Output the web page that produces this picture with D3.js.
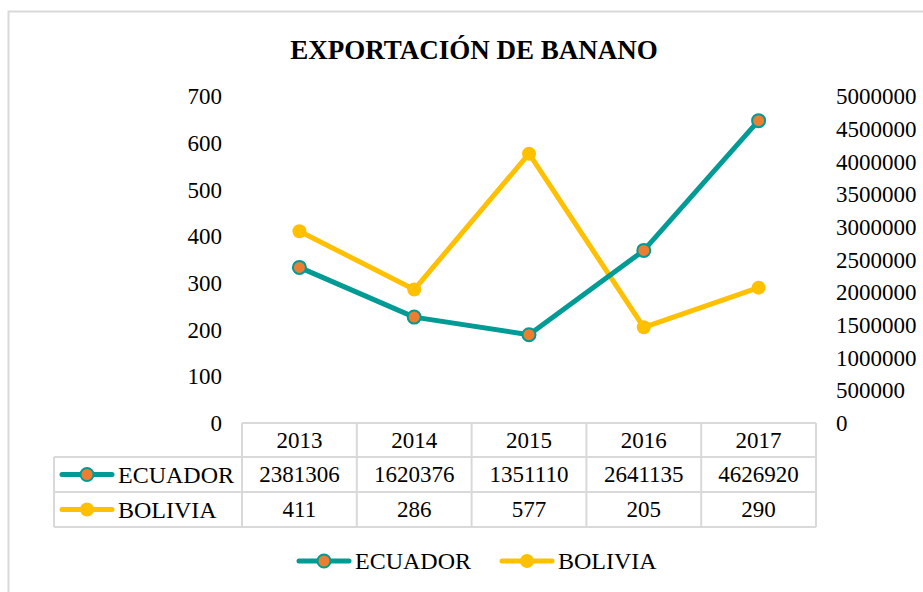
<!DOCTYPE html>
<html>
<head>
<meta charset="utf-8">
<script src="https://cdn.jsdelivr.net/npm/d3@7"></script>
<style>
  html, body { margin: 0; padding: 0; background: #fff; }
  svg text { font-family: "Liberation Serif", "Times New Roman", serif; fill: #000; }
</style>
</head>
<body>
<svg id="chart" width="923" height="592"></svg>
<script>
const title = "EXPORTACIÓN DE BANANO";
const years = ["2013", "2014", "2015", "2016", "2017"];
const seriesNames = ["ECUADOR", "BOLIVIA"];
const ecuador = [2381306, 1620376, 1351110, 2641135, 4626920];
const bolivia = [411, 286, 577, 205, 290];
const leftTicks = [0, 100, 200, 300, 400, 500, 600, 700];
const rightTicks = [0, 500000, 1000000, 1500000, 2000000, 2500000, 3000000, 3500000, 4000000, 4500000, 5000000];

const colors = { teal: "#009B95", orange: "#ED7D31", yellow: "#FFC000", grid: "#d9d9d9" };
const svg = d3.select("#chart");
const fs = 23;
const fsLegend = 24;

// outer chart border (top & left visible)
svg.append("path").attr("d", "M8.5,592 L8.5,11.5 L923,11.5")
  .attr("fill", "none").attr("stroke", colors.grid).attr("stroke-width", 2);

// title
svg.append("text").attr("x", 474).attr("y", 59).attr("text-anchor", "middle")
  .attr("font-size", 27).attr("font-weight", "bold").text(title);

const plotLeft = 242, plotRight = 816, plotTop = 96.3, plotBottom = 423;
const x = d3.scaleBand().domain(years).range([plotLeft, plotRight]);
const yL = d3.scaleLinear().domain([0, 700]).range([plotBottom, plotTop]);
const yR = d3.scaleLinear().domain([0, 5000000]).range([plotBottom, plotTop]);

// left axis
const axL = svg.append("g").attr("transform", `translate(${plotLeft},0)`)
  .call(d3.axisLeft(yL).tickValues(leftTicks).tickSize(0).tickPadding(20).tickFormat(d3.format("d")));
axL.select(".domain").remove();
axL.selectAll("text").attr("font-size", fs).attr("font-family", "Liberation Serif").attr("fill", "#000");

// right axis
const axR = svg.append("g").attr("transform", `translate(${plotRight},0)`)
  .call(d3.axisRight(yR).tickValues(rightTicks).tickSize(0).tickPadding(20).tickFormat(d3.format("d")));
axR.select(".domain").remove();
axR.selectAll("text").attr("font-size", fs).attr("font-family", "Liberation Serif").attr("fill", "#000");

// table
const tableLeft = 54;
const rowY = [423, 457, 492, 527];
const tg = svg.append("g").attr("stroke", colors.grid).attr("stroke-width", 2).attr("fill", "none");
tg.append("line").attr("x1", plotLeft).attr("x2", plotRight).attr("y1", rowY[0]).attr("y2", rowY[0]);
[1, 2, 3].forEach(i => tg.append("line").attr("x1", tableLeft).attr("x2", plotRight).attr("y1", rowY[i]).attr("y2", rowY[i]));
tg.append("line").attr("x1", tableLeft).attr("x2", tableLeft).attr("y1", rowY[1]).attr("y2", rowY[3]);
const colEdges = years.map(y => x(y)).concat([plotRight]);
colEdges.forEach(cx => tg.append("line").attr("x1", cx).attr("x2", cx).attr("y1", rowY[0]).attr("y2", rowY[3]));

years.forEach(yr => {
  svg.append("text").attr("x", x(yr) + x.bandwidth() / 2).attr("y", (rowY[0] + rowY[1]) / 2)
    .attr("text-anchor", "middle").attr("dominant-baseline", "central").attr("font-size", fs).text(yr);
});
const rows = [ecuador, bolivia];
rows.forEach((vals, r) => {
  vals.forEach((v, i) => {
    svg.append("text").attr("x", x(years[i]) + x.bandwidth() / 2).attr("y", (rowY[r + 1] + rowY[r + 2]) / 2)
      .attr("text-anchor", "middle").attr("dominant-baseline", "central").attr("font-size", fs).text(v);
  });
});

function legendKey(g, cx, cy, name) {
  const isEc = name === "ECUADOR";
  const col = isEc ? colors.teal : colors.yellow;
  g.append("line").attr("x1", cx - 25).attr("x2", cx + 25).attr("y1", cy).attr("y2", cy)
    .attr("stroke", col).attr("stroke-width", 5).attr("stroke-linecap", "round");
  g.append("circle").attr("cx", cx).attr("cy", cy).attr("r", isEc ? 6.5 : 7)
    .attr("fill", isEc ? colors.orange : colors.yellow)
    .attr("stroke", col).attr("stroke-width", isEc ? 2 : 0);
  g.append("text").attr("x", cx + 31).attr("y", cy).attr("dominant-baseline", "central")
    .attr("font-size", fsLegend).text(name);
}
const lg = svg.append("g");
legendKey(lg, 87, (rowY[1] + rowY[2]) / 2, seriesNames[0]);
legendKey(lg, 87, (rowY[2] + rowY[3]) / 2, seriesNames[1]);

const cxOf = i => x(years[i]) + x.bandwidth() / 2;
const lineE = d3.line().x((d, i) => cxOf(i)).y(d => yR(d));
const lineB = d3.line().x((d, i) => cxOf(i)).y(d => yL(d));

svg.append("path").datum(bolivia).attr("d", lineB).attr("fill", "none")
  .attr("stroke", colors.yellow).attr("stroke-width", 5).attr("stroke-linejoin", "round").attr("stroke-linecap", "round");
svg.append("path").datum(ecuador).attr("d", lineE).attr("fill", "none")
  .attr("stroke", colors.teal).attr("stroke-width", 5).attr("stroke-linejoin", "round").attr("stroke-linecap", "round");

svg.selectAll(".ptB").data(bolivia).enter().append("circle")
  .attr("cx", (d, i) => cxOf(i)).attr("cy", d => yL(d)).attr("r", 7).attr("fill", colors.yellow);
svg.selectAll(".ptE").data(ecuador).enter().append("circle")
  .attr("cx", (d, i) => cxOf(i)).attr("cy", d => yR(d)).attr("r", 6.5)
  .attr("fill", colors.orange).attr("stroke", colors.teal).attr("stroke-width", 2);

const bl = svg.append("g");
legendKey(bl, 324, 561, seriesNames[0]);
legendKey(bl, 527, 561, seriesNames[1]);
</script>
</body>
</html>
